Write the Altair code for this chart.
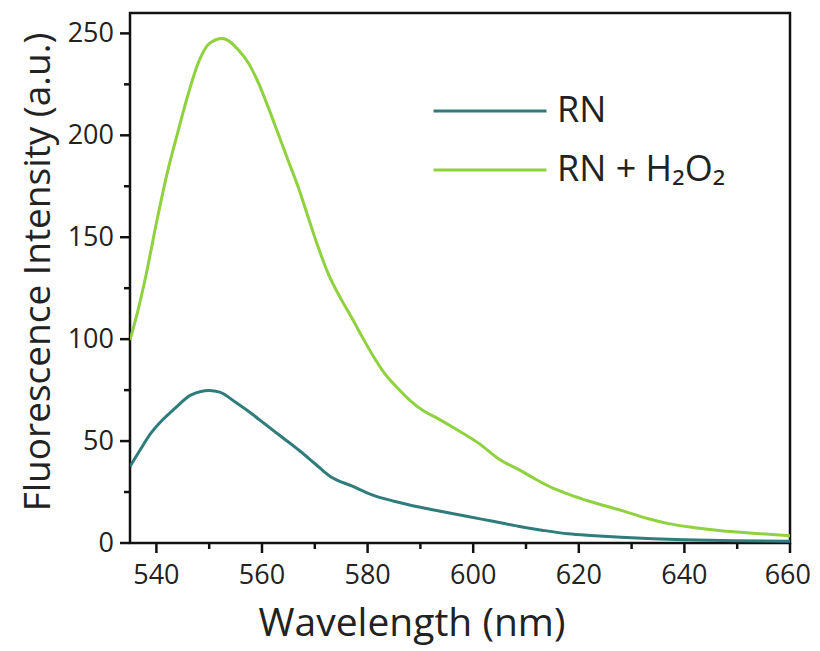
import altair as alt
import pandas as pd

# Wavelength (nm) and intensity readings
wl_rn = [535, 537, 539, 541, 543.5, 546.5, 550, 552, 555, 558, 560.5, 564, 567, 570, 573, 577, 581, 585, 590,
         595, 599, 604, 609, 613, 618, 623, 628, 634, 640, 650, 660]
rn = [37.5, 46, 54, 60, 66, 72.5, 74.8, 74, 69, 63.5, 58.5, 51.5, 45.5, 39, 32.5, 28, 23.5, 20.5, 17.5,
      15, 13, 10.5, 8, 6.3, 4.5, 3.6, 2.8, 2.1, 1.6, 1.1, 0.8]

wl_h2o2 = [535, 536.5, 538, 540, 542, 544, 546, 548, 550, 552.5, 555.5, 557.4, 559.3, 561.1, 563, 564.9, 566.8,
           568.7, 570.6, 572.5, 575, 577, 579, 581, 583, 585.5, 588, 590.5, 593, 596, 601, 605, 609, 612, 615,
           618, 622, 628, 633, 637, 642, 647, 653, 660]
h2o2 = [99.6, 114, 131, 157, 181, 201, 220, 236, 245, 247.5, 242, 235.6, 225.8, 214.3, 201.2, 188, 175,
        160.2, 145.4, 132.4, 119.5, 110.5, 101, 92, 84, 76.5, 70, 65, 61.5, 57, 49, 41, 35.5, 31, 27,
        24, 20.5, 16, 12, 9.5, 7.5, 6, 4.8, 3.5]

series_names = ["RN", "RN + H\u2082O\u2082"]
series_colors = ["#2e7d7a", "#8fd13f"]

x_major = [540, 560, 580, 600, 620, 640, 660]
x_minor = [550, 570, 590, 610, 630, 650]
y_major = [0, 50, 100, 150, 200, 250]
y_minor = [25, 75, 125, 175, 225]

X_TITLE = "Wavelength (nm)"
Y_TITLE = "Fluorescence Intensity (a.u.)"

df = pd.concat([
    pd.DataFrame({"wl": wl_rn, "val": rn, "series": series_names[0]}),
    pd.DataFrame({"wl": wl_h2o2, "val": h2o2, "series": series_names[1]}),
])

FONT = "Open Sans"
INK = "#111111"
TXT = "#222222"
W, H = 660, 530
xscale = alt.Scale(domain=[535, 660], nice=False, zero=False)
yscale = alt.Scale(domain=[0, 260], nice=False)

lines = alt.Chart(df).mark_line(strokeWidth=3, interpolate="monotone", clip=True).encode(
    x=alt.X("wl:Q", scale=xscale, axis=None),
    y=alt.Y("val:Q", scale=yscale, axis=None),
    color=alt.Color("series:N", scale=alt.Scale(domain=series_names, range=series_colors),
                    legend=alt.Legend(title=None, orient="none", legendX=302, legendY=78,
                                      symbolType="stroke", symbolSize=12769, symbolStrokeWidth=3,
                                      labelFontSize=36, labelOffset=9, clipHeight=40, rowPadding=19,
                                      labelLimit=400, padding=0, labelFont=FONT, labelColor=TXT)),
)


def xticks(vals, length):
    return alt.Chart(pd.DataFrame({"wl": vals})).mark_rule(color=INK, strokeWidth=2.5, clip=False).encode(
        x=alt.X("wl:Q", scale=xscale, axis=None),
        y=alt.value(H), y2=alt.value(H + length))


def yticks(vals, length):
    return alt.Chart(pd.DataFrame({"val": vals})).mark_rule(color=INK, strokeWidth=2.5, clip=False).encode(
        y=alt.Y("val:Q", scale=yscale, axis=None),
        x=alt.value(0), x2=alt.value(-length))


def xlabels(vals, align, dx):
    return alt.Chart(pd.DataFrame({"wl": vals, "t": [str(v) for v in vals]})).mark_text(
        font=FONT, fontSize=27, color=TXT, align=align, baseline="alphabetic", clip=False, dx=dx
    ).encode(x=alt.X("wl:Q", scale=xscale, axis=None), y=alt.value(H + 41), text="t:N")


ylabels = alt.Chart(pd.DataFrame({"val": y_major, "t": [str(v) for v in y_major]})).mark_text(
    font=FONT, fontSize=27, color=TXT, align="right", baseline="middle", clip=False, dy=1
).encode(y=alt.Y("val:Q", scale=yscale, axis=None), x=alt.value(-16), text="t:N")

xtitle = alt.Chart(pd.DataFrame({"t": [X_TITLE]})).mark_text(
    font=FONT, fontSize=39, color=TXT, align="center", baseline="alphabetic", clip=False
).encode(x=alt.value(282), y=alt.value(H + 93), text="t:N")

ytitle = alt.Chart(pd.DataFrame({"t": [Y_TITLE]})).mark_text(
    font=FONT, fontSize=37, color=TXT, align="center", baseline="alphabetic", angle=270, clip=False
).encode(x=alt.value(-80), y=alt.value(259), text="t:N")

chart = alt.layer(
    lines, xticks(x_major, 10), xticks(x_minor, 6), yticks(y_major, 10), yticks(y_minor, 6),
    xlabels(x_major[:-1], "center", 0), xlabels(x_major[-1:], "right", 21), ylabels, xtitle, ytitle
).properties(
    width=W, height=H,
    autosize=alt.AutoSizeParams(type="none"),
    padding={"left": 122, "top": 5, "right": 22, "bottom": 105},
).configure_view(stroke=INK, strokeWidth=2.5)

chart.save("out.html", embed_options={"renderer": "svg", "actions": False})
